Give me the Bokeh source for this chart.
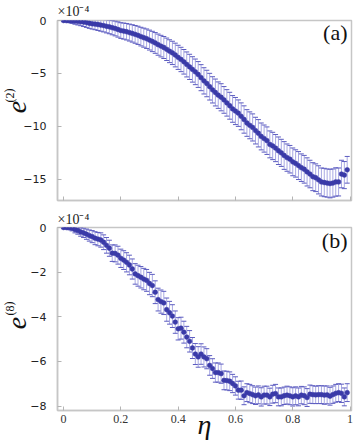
from bokeh.plotting import figure
from bokeh.models import Range1d, FixedTicker, Label, ColumnDataSource, Title
from bokeh.layouts import column, row
from bokeh.embed import file_html
from bokeh.resources import INLINE
from bokeh.core.properties import value

# ---------------- data (values in units of 1e-4) ----------------
eta = [round(i * 0.01, 2) for i in range(100)]

e2 = [0.00, -0.01, -0.02, -0.03, -0.05, -0.08, -0.11, -0.15, -0.20, -0.26,
      -0.31, -0.34, -0.38, -0.43, -0.48, -0.55, -0.60, -0.68, -0.75, -0.85,
      -0.95, -1.00, -1.06, -1.14, -1.22, -1.31, -1.40, -1.52, -1.62, -1.72,
      -1.85, -1.98, -2.12, -2.28, -2.42, -2.55, -2.72, -2.90, -3.06, -3.26,
      -3.48, -3.68, -3.90, -4.15, -4.38, -4.62, -4.85, -5.10, -5.40, -5.70,
      -5.95, -6.25, -6.55, -6.80, -7.05, -7.25, -7.50, -7.78, -8.05, -8.35,
      -8.55, -8.75, -9.05, -9.35, -9.68, -9.90, -10.10, -10.40, -10.65, -10.95,
      -11.15, -11.35, -11.70, -11.85, -12.05, -12.30, -12.50, -12.75, -12.95, -13.10,
      -13.35, -13.50, -13.70, -13.90, -14.05, -14.30, -14.50, -14.75, -14.85, -15.05,
      -15.25, -15.30, -15.35, -15.40, -15.35, -15.25, -15.25, -14.50, -14.60, -14.10]

e2_err = [0.05, 0.12, 0.18, 0.24, 0.30, 0.34, 0.38, 0.42, 0.45, 0.48,
          0.50, 0.53, 0.56, 0.58, 0.60, 0.62, 0.65, 0.67, 0.70, 0.72,
          0.74, 0.76, 0.78, 0.80, 0.82, 0.84, 0.86, 0.88, 0.90, 0.92,
          0.94, 0.96, 0.98, 1.00, 1.02, 1.04, 1.06, 1.08, 1.10, 1.12,
          1.14, 1.15, 1.16, 1.18, 1.19, 1.20, 1.21, 1.22, 1.23, 1.24,
          1.25, 1.26, 1.24, 1.27, 1.25, 1.28, 1.26, 1.25, 1.27, 1.26,
          1.28, 1.25, 1.27, 1.29, 1.26, 1.27, 1.28, 1.26, 1.29, 1.27,
          1.28, 1.30, 1.27, 1.29, 1.28, 1.30, 1.28, 1.31, 1.29, 1.30,
          1.31, 1.29, 1.32, 1.30, 1.31, 1.33, 1.30, 1.32, 1.31, 1.33,
          1.32, 1.34, 1.33, 1.35, 1.33, 1.34, 1.32, 1.30, 1.28, 1.26]

e8 = [0.00, 0.00, -0.01, -0.03, -0.09, -0.13, -0.20, -0.24, -0.30, -0.36,
      -0.41, -0.48, -0.52, -0.56, -0.66, -0.80, -0.93, -1.15, -1.16, -1.24,
      -1.38, -1.46, -1.56, -1.68, -1.86, -2.08, -2.16, -2.23, -2.31, -2.37,
      -2.51, -2.60, -2.90, -3.23, -3.32, -3.38, -3.68, -3.82, -3.97, -4.24,
      -4.54, -4.51, -4.69, -4.91, -5.10, -5.40, -5.67, -5.80, -5.67, -5.80,
      -5.88, -6.18, -6.32, -6.50, -6.50, -6.55, -6.85, -6.86, -6.89, -6.99,
      -7.10, -7.29, -7.29, -7.54, -7.40, -7.44, -7.49, -7.54, -7.50, -7.59,
      -7.51, -7.51, -7.59, -7.47, -7.44, -7.59, -7.59, -7.54, -7.51, -7.54,
      -7.59, -7.54, -7.59, -7.51, -7.54, -7.62, -7.47, -7.49, -7.50, -7.49,
      -7.49, -7.51, -7.50, -7.56, -7.49, -7.43, -7.40, -7.43, -7.59, -7.40]

e8_err = [0.03, 0.06, 0.09, 0.12, 0.15, 0.17, 0.19, 0.21, 0.23, 0.25,
          0.27, 0.29, 0.30, 0.32, 0.33, 0.35, 0.36, 0.37, 0.38, 0.40,
          0.41, 0.42, 0.43, 0.44, 0.45, 0.46, 0.47, 0.48, 0.48, 0.49,
          0.50, 0.50, 0.51, 0.51, 0.52, 0.52, 0.52, 0.51, 0.51, 0.50,
          0.50, 0.49, 0.49, 0.48, 0.48, 0.47, 0.47, 0.46, 0.46, 0.45,
          0.45, 0.44, 0.44, 0.43, 0.43, 0.43, 0.42, 0.42, 0.42, 0.41,
          0.41, 0.40, 0.41, 0.40, 0.40, 0.41, 0.40, 0.39, 0.40, 0.41,
          0.40, 0.40, 0.39, 0.40, 0.41, 0.40, 0.40, 0.39, 0.40, 0.40,
          0.41, 0.40, 0.40, 0.39, 0.40, 0.40, 0.41, 0.40, 0.39, 0.40,
          0.40, 0.41, 0.40, 0.40, 0.39, 0.40, 0.40, 0.41, 0.40, 0.40]

x_ticks = [0, 0.2, 0.4, 0.6, 0.8, 1.0]
x_tick_labels = {0: "0", 0.2: "0.2", 0.4: "0.4", 0.6: "0.6", 0.8: "0.8", 1.0: "1"}
yticks_a = [-15, -10, -5, 0]
yticks_b = [-8, -6, -4, -2, 0]
ylabels = ["e", "e"]
ysups = ["(2)", "(8)"]
scale_text = "×10⁻⁴"
xlabel = "η"

GRAY = "#c6c6c6"
DOT = "#3a3aa8"
BAR = "#a8a8e3"
CAP = "#5c5cc0"
SERIF = "Liberation Serif"
LAB_W = 40          # strip holding the rotated y titles
OVERLAP = 20        # panels are slid left over the (empty) right part of the strip
MAIN_W = 353 - LAB_W + OVERLAP


def style(p, yticks, show_x):
    p.outline_line_color = GRAY
    p.outline_line_width = 1.5
    p.grid.visible = False
    p.background_fill_color = "white"
    p.border_fill_alpha = 0
    for ax in (p.xaxis[0], p.yaxis[0]):
        ax.axis_line_color = GRAY
        ax.axis_line_width = 1.5
        ax.major_tick_line_color = "#b4b4b4"
        ax.major_tick_in = 4
        ax.major_tick_out = 0
        ax.minor_tick_line_color = None
    p.yaxis.ticker = FixedTicker(ticks=yticks)
    p.yaxis.major_label_text_font = "DejaVu Sans"
    p.yaxis.major_label_text_font_size = "11px"
    p.yaxis.major_label_text_color = "#222222"
    p.yaxis.major_label_standoff = 11
    p.yaxis.axis_label_standoff = 0
    p.xaxis.ticker = FixedTicker(ticks=x_ticks)
    if show_x:
        p.xaxis.major_label_overrides = x_tick_labels
        p.xaxis.major_label_text_font = SERIF
        p.xaxis.major_label_text_font_size = "12px"
        p.xaxis.major_label_text_color = "#333333"
        p.xaxis.major_label_standoff = 4
    else:
        p.xaxis.major_label_text_font_size = "0px"
        p.xaxis.major_label_text_color = None
        p.xaxis.major_label_standoff = 0
        p.xaxis.axis_label_standoff = 0


def draw(p, vals, errs):
    src = ColumnDataSource(dict(
        x=eta, y=vals,
        lo=[v - e for v, e in zip(vals, errs)],
        hi=[v + e for v, e in zip(vals, errs)],
    ))
    p.segment(x0="x", y0="lo", x1="x", y1="hi", source=src, line_color=BAR, line_width=1)
    p.scatter("x", "hi", marker="dash", size=5, line_color=CAP, line_width=1, source=src)
    p.scatter("x", "lo", marker="dash", size=5, line_color=CAP, line_width=1, source=src)
    p.scatter("x", "y", marker="circle", size=4.8, fill_color=DOT, line_color=DOT,
              line_width=0.5, source=src)


XR = (-0.021, 1.005)

# ---------------- panel (a) ----------------
pa = figure(width=MAIN_W, height=206, x_range=Range1d(*XR), y_range=Range1d(-17, 0),
            output_backend="svg", toolbar_location=None,
            min_border_left=30, min_border_right=2, min_border_top=17, min_border_bottom=6)
style(pa, yticks_a, False)
draw(pa, e2, e2_err)
pa.add_layout(Title(text=scale_text, align="left", offset=0, standoff=3,
                    text_font=SERIF, text_font_size="14px", text_font_style="normal",
                    text_color="#222222"), "above")
pa.add_layout(Label(x=0.991, y=-1.15, text="(a)", text_font=SERIF,
                    text_font_size="22px", text_align="right", text_baseline="middle",
                    text_color="#111111"))

# ---------------- panel (b) ----------------
pb = figure(width=MAIN_W, height=238, x_range=Range1d(*XR), y_range=Range1d(-8.2, 0),
            output_backend="svg", toolbar_location=None,
            min_border_left=30, min_border_right=2, min_border_top=21, min_border_bottom=34)
style(pb, yticks_b, True)
draw(pb, e8, e8_err)
pb.add_layout(Title(text=scale_text, align="left", offset=0, standoff=2,
                    text_font=SERIF, text_font_size="14px", text_font_style="normal",
                    text_color="#222222"), "above")
pb.add_layout(Label(x=0.991, y=-0.60, text="(b)", text_font=SERIF,
                    text_font_size="22px", text_align="right", text_baseline="middle",
                    text_color="#111111"))
pb.xaxis.axis_label = xlabel
pb.xaxis.axis_label_text_font = SERIF
pb.xaxis.axis_label_text_font_style = "italic"
pb.xaxis.axis_label_text_font_size = "28px"
pb.xaxis.axis_label_text_color = "#111111"
pb.xaxis.axis_label_standoff = -17

# ---------------- y-axis titles (strip on the left) ----------------
lab = figure(width=LAB_W, height=444, x_range=Range1d(0, LAB_W), y_range=Range1d(0, 444),
             output_backend="svg", toolbar_location=None, min_border=0,
             x_axis_type=None, y_axis_type=None, outline_line_color=None)
lab.grid.visible = False
lab.background_fill_color = "white"
lab.border_fill_color = "white"
lab.text(x=[16.5, 16.5], y=[444 - 106.5, 444 - 322.5], text=ylabels, angle=1.5708,
         text_font=value(SERIF), text_font_style="italic", text_font_size="28px",
         text_align="center", text_baseline="middle", text_color="#111111")
lab.text(x=[9, 9], y=[444 - 95, 444 - 308], text=ysups, angle=1.5708,
         text_font=value(SERIF), text_font_size="12px",
         text_align="center", text_baseline="middle", text_color="#111111")

panels = column(pa, pb, spacing=0, styles={"margin-left": f"-{OVERLAP}px"})
layout = row(lab, panels, spacing=0, width=353, height=444)
open("out.html", "w").write(file_html(layout, INLINE))
